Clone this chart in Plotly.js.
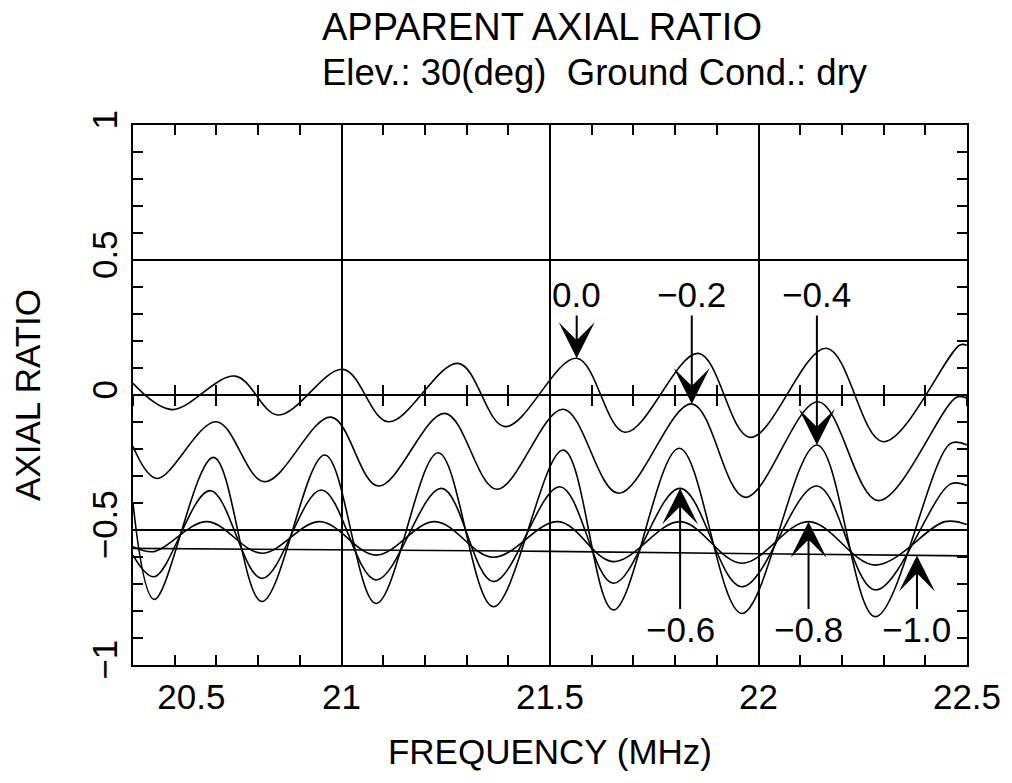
<!DOCTYPE html>
<html><head><meta charset="utf-8">
<script src="https://cdn.plot.ly/plotly-3.0.1.min.js"></script>
<style>html,body{margin:0;padding:0;background:#fff}#chart{width:1012px;height:783px}</style>
</head><body><div id="chart"></div>
<script>
// ---- data (frequency in MHz, apparent axial ratio) ----
const seriesNames = ["0.0", "−0.2", "−0.4", "−0.6", "−0.8", "−1.0"];

const freq_00 = [20.5, 20.593, 20.745, 20.848, 21.004, 21.112, 21.28, 21.392, 21.564, 21.68, 21.856, 21.98, 22.163, 22.299, 22.483, 22.5];
const ar_00   = [0.043, -0.054, 0.070, -0.074, 0.095, -0.099, 0.117, -0.117, 0.136, -0.138, 0.154, -0.157, 0.173, -0.173, 0.185, 0.184];

const freq_02 = [20.5, 20.557, 20.70, 20.815, 20.975, 21.088, 21.248, 21.372, 21.532, 21.664, 21.84, 21.968, 22.143, 22.287, 22.475, 22.5];
const ar_02   = [-0.19, -0.309, -0.099, -0.321, -0.082, -0.337, -0.068, -0.349, -0.053, -0.364, -0.033, -0.379, -0.025, -0.391, -0.008, -0.012];

const freq_04 = [20.5, 20.551, 20.693, 20.809, 20.96, 21.083, 21.232, 21.364, 21.532, 21.652, 21.81, 21.96, 22.14, 22.28, 22.46, 22.5];
const ar_04   = [-0.40, -0.757, -0.231, -0.765, -0.222, -0.772, -0.214, -0.784, -0.204, -0.796, -0.197, -0.809, -0.185, -0.821, -0.18, -0.185];

const freq_06 = [20.5, 20.551, 20.685, 20.809, 20.952, 21.083, 21.24, 21.364, 21.524, 21.652, 21.812, 21.96, 22.14, 22.28, 22.46, 22.5];
const ar_06   = [-0.593, -0.673, -0.354, -0.679, -0.352, -0.685, -0.346, -0.691, -0.34, -0.697, -0.346, -0.71, -0.337, -0.722, -0.33, -0.335];

const freq_08 = [20.5, 20.551, 20.677, 20.809, 20.948, 21.083, 21.224, 21.364, 21.52, 21.652, 21.812, 21.96, 22.12, 22.28, 22.447, 22.5];
const ar_08   = [-0.562, -0.580, -0.469, -0.586, -0.469, -0.593, -0.469, -0.601, -0.469, -0.617, -0.469, -0.623, -0.469, -0.63, -0.469, -0.48];

const freq_10 = [20.5, 21.0, 21.5, 22.0, 22.5];
const ar_10   = [-0.568, -0.573, -0.579, -0.588, -0.596];

// frequency at which each label's arrow points at its curve
const arrowFreq = [21.564, 21.84, 22.14, 21.812, 22.12, 22.38];

const xTickVals = [20.5, 21, 21.5, 22, 22.5];
const xTickText = ["\u2007\u2007\u2007\u2007\u2007\u200720.5", "21", "21.5", "22", "22.5"];
const yTickVals = [-1, -0.5, 0, 0.5, 1];
const yTickText = ["−1", "−0.5", "0", "0.5", "1"];

// ---- build ----
const FONT = "Liberation Sans, Arial, sans-serif";
const freqs = [freq_00, freq_02, freq_04, freq_06, freq_08, freq_10];
const ars = [ar_00, ar_02, ar_04, ar_06, ar_08, ar_10];

function valueAt(xs, ys, x) {
  for (let i = 0; i < xs.length - 1; i++) {
    if (x >= xs[i] && x <= xs[i + 1]) {
      const t = (x - xs[i]) / (xs[i + 1] - xs[i]);
      return ys[i] + t * (ys[i + 1] - ys[i]);
    }
  }
  return ys[ys.length - 1];
}

const traces = freqs.map((xs, i) => ({
  type: "scatter", mode: "lines", name: seriesNames[i],
  x: xs, y: ars[i],
  line: { color: "#000", width: 1.6, shape: i === 5 ? "linear" : "spline", smoothing: 1 },
  hoverinfo: "skip", showlegend: false
}));
// invisible helper traces (outside the range) so the zero-line tick axes get drawn
["x2", "x3"].forEach(ax => traces.push({
  type: "scatter", mode: "markers", x: [20.0], y: [0], xaxis: ax, yaxis: "y",
  marker: { opacity: 0 }, showlegend: false, hoverinfo: "skip", cliponaxis: true
}));

const labelTop = 0.372, labelBottom = -0.87;
const annotations = seriesNames.map((name, i) => {
  const tipX = arrowFreq[i];
  const tipY = valueAt(freqs[i], ars[i], tipX);
  const above = i < 3;
  return {
    xref: "x", yref: "y", axref: "x", ayref: "y",
    x: tipX, y: tipY, ax: tipX, ay: above ? labelTop : labelBottom,
    text: name, showarrow: true, arrowhead: 3, arrowsize: 3.0, arrowwidth: 2,
    arrowcolor: "#000", standoff: 0, startstandoff: 0,
    font: { family: FONT, size: 35, color: "#000" }, bgcolor: "rgba(0,0,0,0)"
  };
});
annotations.push({
  xref: "paper", yref: "paper", x: 0.224, y: 1.181, xanchor: "left", yanchor: "middle",
  text: "APPARENT AXIAL RATIO", showarrow: false, font: { family: FONT, size: 38, color: "#000" }
});
annotations.push({
  xref: "paper", yref: "paper", x: 0.224, y: 1.097, xanchor: "left", yanchor: "middle",
  text: "Elev.: 30(deg)\u00a0\u00a0Ground Cond.: dry", showarrow: false, font: { family: FONT, size: 36.5, color: "#000" }
});

const tickAxisBase = {
  overlaying: "x", anchor: "free", position: 0.5, range: [20.5, 22.5],
  tickmode: "linear", tick0: 20.5, dtick: 0.1, ticklen: 10, tickwidth: 2, tickcolor: "#000",
  showticklabels: false, showline: false, showgrid: false, zeroline: false, fixedrange: true
};

const layout = {
  width: 1012, height: 783,
  margin: { l: 133, r: 45, t: 125, b: 118 },
  paper_bgcolor: "#fff", plot_bgcolor: "#fff",
  font: { family: FONT, color: "#000" },
  showlegend: false,
  xaxis: {
    range: [20.5, 22.5], tickmode: "array", tickvals: xTickVals, ticktext: xTickText,
    ticks: "inside", ticklen: 10, tickwidth: 2, tickcolor: "#000",
    showline: true, linewidth: 2, linecolor: "#000", mirror: "ticks",
    showgrid: true, gridcolor: "#000", gridwidth: 2, zeroline: false,
    minor: { tick0: 20.5, dtick: 0.1, ticks: "inside", ticklen: 10, tickwidth: 2, tickcolor: "#000", showgrid: false },
    tickfont: { family: FONT, size: 35, color: "#000" },
    title: { text: "FREQUENCY (MHz)", font: { family: FONT, size: 35, color: "#000" }, standoff: 24 },
    fixedrange: true
  },
  xaxis2: Object.assign({}, tickAxisBase, { ticks: "outside" }),
  xaxis3: Object.assign({}, tickAxisBase, { ticks: "inside" }),
  yaxis: {
    range: [-1, 1], tickmode: "array", tickvals: yTickVals, ticktext: yTickText, tickangle: -90,
    ticks: "inside", ticklen: 10, tickwidth: 2, tickcolor: "#000",
    showline: true, linewidth: 2, linecolor: "#000", mirror: "ticks",
    showgrid: true, gridcolor: "#000", gridwidth: 2, zeroline: false,
    minor: { tick0: -1, dtick: 0.1, ticks: "inside", ticklen: 10, tickwidth: 2, tickcolor: "#000", showgrid: false },
    tickfont: { family: FONT, size: 35, color: "#000" },
    title: { text: "AXIAL RATIO", font: { family: FONT, size: 35, color: "#000" }, standoff: 34 },
    fixedrange: true
  },
  annotations: annotations
};

Plotly.newPlot("chart", traces, layout, { staticPlot: true, displayModeBar: false });
</script>
</body></html>
